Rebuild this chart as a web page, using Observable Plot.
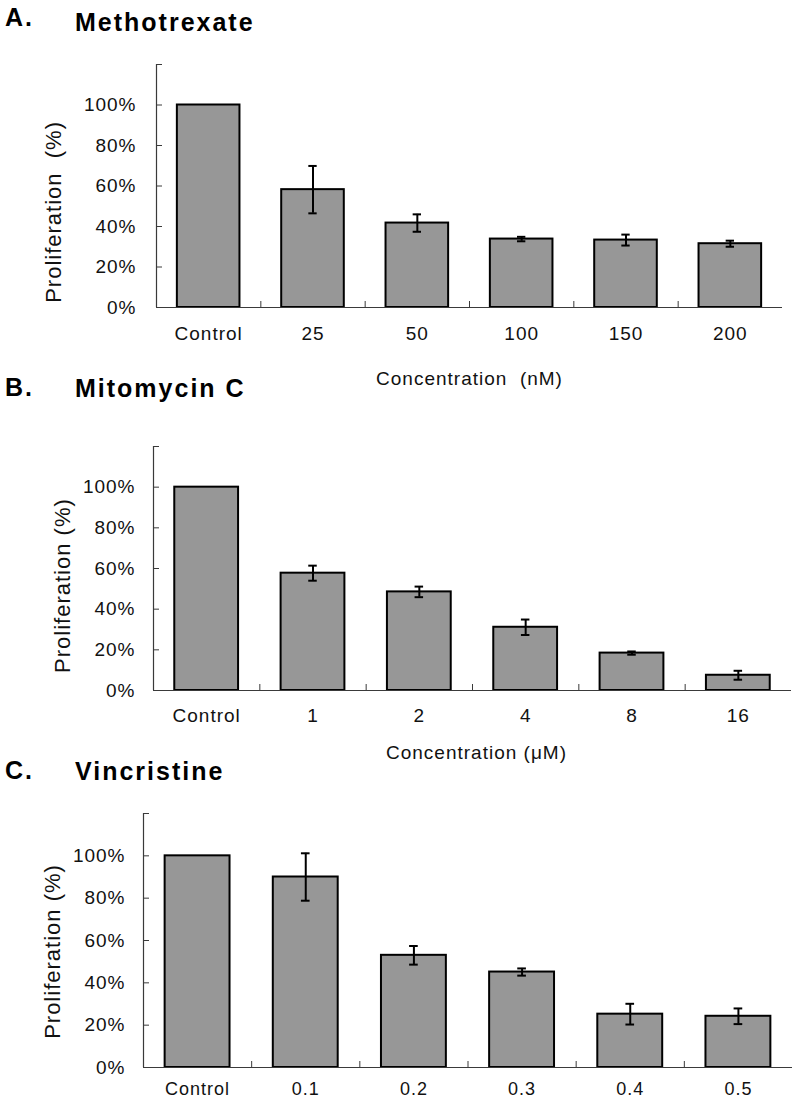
<!DOCTYPE html>
<html>
<head>
<meta charset="utf-8">
<script src="https://cdn.jsdelivr.net/npm/d3@7"></script>
<script src="https://cdn.jsdelivr.net/npm/@observablehq/plot@0.6"></script>
<style>
  body { margin: 0; background: #fff; }
  #fig { position: relative; width: 796px; height: 1101px; overflow: hidden; background: #fff;
         font-family: "Liberation Sans", Arial, sans-serif; }
  .lab { position: absolute; font-weight: bold; font-size: 25px; line-height: 25px; color: #000; white-space: nowrap; }
  .panel { position: absolute; left: 0; }
</style>
</head>
<body>
<div id="fig"></div>
<script>
// ---- Data ----
const titleA = "Methotrexate";
const categoriesA = ["Control", "25", "50", "100", "150", "200"];
const valuesA = [100, 58.2, 41.7, 33.8, 33.3, 31.5];
const errorsA = [0, 11.7, 4.3, 1.1, 2.7, 1.5];
const xTitleA = "Concentration  (nM)";

const titleB = "Mitomycin C";
const categoriesB = ["Control", "1", "2", "4", "8", "16"];
const valuesB = [100, 57.7, 48.5, 31.1, 18.4, 7.5];
const errorsB = [0, 3.7, 2.6, 3.8, 0.8, 2.2];
const xTitleB = "Concentration (\u03bcM)";

const titleC = "Vincristine";
const categoriesC = ["Control", "0.1", "0.2", "0.3", "0.4", "0.5"];
const valuesC = [100, 90.0, 53.0, 45.1, 25.2, 24.2];
const errorsC = [0, 11.2, 4.4, 1.7, 4.9, 3.7];

const yTickValues = [0, 20, 40, 60, 80, 100];
const yTickMarks = [0, 20, 40, 60, 80, 100, 120];
const yLabelA = "Proliferation  (%)";
const yLabelB = "Proliferation (%)";
const yLabelC = "Proliferation (%)";

const fig = document.getElementById("fig");

function addLabel(text, left, top) {
  const s = document.createElement("div");
  s.className = "lab";
  s.textContent = text;
  s.style.left = left + "px";
  s.style.top = top + "px";
  s.style.letterSpacing = "2px";
  fig.appendChild(s);
}

function panel(cfg) {
  const data = cfg.categories.map((c, i) => ({i, category: c, value: cfg.values[i], error: cfg.errors[i]}));
  const withErr = data.filter(d => d.error > 0);
  const n = cfg.categories.length;
  const axisColor = "#3a3a3a";
  const marks = [
    // bars
    Plot.rect(data, {
      x1: d => d.i + 0.2, x2: d => d.i + 0.8, y1: 0, y2: "value",
      fill: "#979797", stroke: "#000", strokeWidth: 2
    }),
    // axis lines
    Plot.ruleX([0], {y1: 0, y2: 120, stroke: axisColor, strokeWidth: 1.2}),
    Plot.ruleY([0], {x1: 0, x2: n, stroke: axisColor, strokeWidth: 1.2}),
    // y ticks pointing inward
    Plot.axisY({ticks: yTickMarks, tickSize: 6, dx: 6, fill: "none", stroke: axisColor, label: null}),
    // y tick labels
    Plot.axisY({ticks: yTickValues, tickSize: 0, tickPadding: cfg.yPad, tickFormat: d => d + "%", label: null, fill: "#111"}),
    // x ticks at category boundaries, pointing inward
    Plot.axisX({ticks: d3.range(1, n), tickSize: 6, dy: -6, fill: "none", stroke: axisColor, label: null}),
    // x tick labels at category centres
    Plot.axisX({ticks: d3.range(n).map(i => i + 0.5), tickSize: 0, tickPadding: cfg.xPad,
                fontSize: cfg.xFont || 19,
                tickFormat: d => cfg.categories[Math.round(d - 0.5)], label: null, fill: "#111"}),
    // error bars
    Plot.ruleX(withErr, {x: d => d.i + 0.5, y1: d => d.value - d.error, y2: d => d.value + d.error, stroke: "#000", strokeWidth: 2}),
    Plot.ruleY(withErr, {y: d => d.value + d.error, x1: d => d.i + 0.46, x2: d => d.i + 0.54, stroke: "#000", strokeWidth: 2}),
    Plot.ruleY(withErr, {y: d => d.value - d.error, x1: d => d.i + 0.46, x2: d => d.i + 0.54, stroke: "#000", strokeWidth: 2}),
    // y axis title
    Plot.text([cfg.yLabel], {frameAnchor: "left", y: cfg.yLabelAt, dx: cfg.yLabelDx, rotate: -90,
      fontSize: 22, fill: "#111", textAnchor: "middle", lineAnchor: "middle"})
  ];
  if (cfg.xTitle) {
    marks.push(Plot.text([cfg.xTitle], {frameAnchor: "bottom", dy: cfg.xTitleDy, dx: cfg.xTitleDx || 0,
      fill: "#111", lineAnchor: "middle", fontSize: 19}));
  }
  const chart = Plot.plot({
    width: 796,
    height: cfg.height,
    marginLeft: cfg.ml,
    marginRight: cfg.mr,
    marginTop: cfg.mt,
    marginBottom: cfg.mb,
    x: {type: "linear", domain: [0, n]},
    y: {domain: [0, 120]},
    style: {fontFamily: "'Liberation Sans', Arial, sans-serif", fontSize: "19px", letterSpacing: "1px",
            background: "transparent", color: "#111", overflow: "visible"},
    marks
  });
  const wrap = document.createElement("div");
  wrap.className = "panel";
  wrap.style.top = cfg.top + "px";
  wrap.appendChild(chart);
  fig.appendChild(wrap);
}

// Panel A
addLabel("A.", 5, 5);
addLabel(titleA, 75, 10);
panel({categories: categoriesA, values: valuesA, errors: errorsA, xTitle: xTitleA, yLabel: yLabelA,
  top: 50, height: 341, mt: 14, mb: 84, ml: 156, mr: 14, yPad: 20, xPad: 19,
  yLabelAt: 47.2, yLabelDx: -103, xTitleDy: 71});

// Panel B
addLabel("B.", 5, 375);
addLabel(titleB, 75, 376);
panel({categories: categoriesB, values: valuesB, errors: errorsB, xTitle: xTitleB, yLabel: yLabelB,
  top: 432, height: 338, mt: 14, mb: 80, ml: 153, mr: 5, yPad: 18, xPad: 18,
  yLabelAt: 51.6, yLabelDx: -91, xTitleDy: 62, xTitleDx: 4});

// Panel C
addLabel("C.", 5, 758);
addLabel(titleC, 75, 759);
panel({categories: categoriesC, values: valuesC, errors: errorsC, xTitle: null, yLabel: yLabelC,
  top: 799, height: 302, mt: 14, mb: 34, ml: 143, mr: 4, yPad: 18, xPad: 15, xFont: 18,
  yLabelAt: 54.8, yLabelDx: -90.5});
</script>
</body>
</html>
